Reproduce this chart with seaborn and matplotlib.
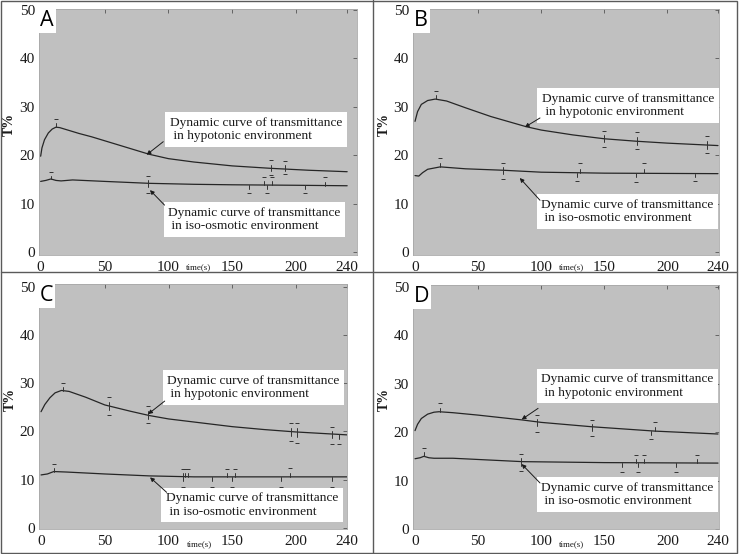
import numpy as np
import pandas as pd
import seaborn as sns
import matplotlib.pyplot as plt
from matplotlib.patches import Rectangle
from matplotlib.lines import Line2D

# ---- data (time in s, T%) ----
panels = ['A', 'B', 'C', 'D']

a_hypo_t = [0, 1, 3, 6, 9, 12, 15, 20, 30, 40, 50, 60, 70, 85, 100, 120, 150, 180, 210, 240]
a_hypo = [19.8, 21.5, 23.2, 24.6, 25.4, 25.8, 25.7, 25.3, 24.5, 23.8, 23.0, 22.2, 21.4, 20.2, 19.3, 18.6, 17.8, 17.3, 16.9, 16.6]
a_iso_t = [0, 4, 8, 12, 16, 25, 50, 85, 120, 150, 200, 240]
a_iso = [14.6, 14.8, 15.1, 14.8, 14.7, 14.9, 14.6, 14.2, 14.0, 13.9, 13.8, 13.7]

b_hypo_t = [0, 2, 5, 10, 16, 25, 40, 60, 88, 100, 125, 150, 175, 200, 240]
b_hypo = [27.0, 29.0, 30.5, 31.3, 31.6, 31.2, 29.8, 28.0, 25.9, 25.2, 24.2, 23.4, 22.9, 22.5, 22.0]
b_iso_t = [0, 3, 6, 10, 20, 40, 70, 100, 150, 240]
b_iso = [15.8, 15.7, 16.4, 17.1, 17.6, 17.2, 16.9, 16.5, 16.3, 16.2]

c_hypo_t = [0, 3, 7, 11, 16, 22, 35, 50, 70, 85, 100, 125, 150, 175, 200, 220, 240]
c_hypo = [24.1, 25.6, 27.0, 28.0, 28.5, 28.3, 27.1, 25.5, 24.2, 23.3, 22.6, 21.8, 21.0, 20.4, 19.9, 19.6, 19.3]
c_iso_t = [0, 5, 10, 20, 50, 85, 120, 180, 240]
c_iso = [11.0, 11.2, 11.7, 11.6, 11.2, 10.8, 10.6, 10.6, 10.6]

d_hypo_t = [0, 2, 5, 10, 15, 19, 30, 50, 85, 100, 140, 190, 240]
d_hypo = [20.3, 21.6, 22.8, 23.7, 24.1, 24.2, 24.0, 23.5, 22.5, 22.0, 21.1, 20.2, 19.6]
d_iso_t = [0, 4, 7, 11, 15, 30, 85, 150, 240]
d_iso = [14.5, 14.7, 15.0, 14.7, 14.6, 14.6, 13.9, 13.7, 13.6]

# small reading marks on the curves: time, end value
a_hypo_mark_t = [12, 180, 180, 191, 191]
a_hypo_mark_v = [27.5, 19.0, 16.0, 18.8, 16.2]
a_iso_mark_t = [8, 84, 84, 163, 175, 177, 181, 207, 223]
a_iso_mark_v = [16.5, 15.7, 12.3, 12.2, 15.5, 12.2, 15.5, 12.2, 15.5]

b_hypo_mark_t = [17, 150, 150, 176, 176, 231, 231]
b_hypo_mark_v = [33.3, 25.0, 21.8, 24.7, 21.3, 24.0, 20.5]
b_iso_mark_t = [20, 70, 70, 128, 131, 175, 181, 222]
b_iso_mark_v = [19.5, 18.5, 15.0, 14.6, 18.3, 14.5, 18.3, 14.6]

c_hypo_mark_t = [17, 53, 53, 84, 84, 196, 196, 201, 201, 228, 228, 234]
c_hypo_mark_v = [30.0, 27.2, 23.5, 25.3, 21.8, 21.8, 18.0, 21.7, 17.6, 21.0, 17.5, 17.5]
c_iso_mark_t = [10, 111, 113, 115, 111, 134, 146, 150, 152, 188, 195, 228]
c_iso_mark_v = [13.3, 12.3, 12.3, 12.3, 8.5, 8.5, 12.3, 8.5, 12.3, 8.5, 12.5, 8.5]

d_hypo_mark_t = [20, 97, 97, 140, 140, 187, 190]
d_hypo_mark_v = [26.0, 23.5, 20.0, 22.5, 19.2, 18.5, 22.0]
d_iso_mark_t = [7, 84, 84, 164, 175, 177, 181, 207, 223]
d_iso_mark_v = [16.8, 15.5, 12.0, 11.8, 15.3, 11.8, 15.3, 11.8, 15.3]

hypo_label = 'Dynamic curve of transmittance\n in hypotonic environment'
iso_label = 'Dynamic curve of transmittance\n in iso-osmotic environment'
x_ticks = [0, 50, 100, 150, 200, 240]
y_ticks = [0, 10, 20, 30, 40, 50]

curves = {
    'A': (a_hypo_t, a_hypo, a_iso_t, a_iso),
    'B': (b_hypo_t, b_hypo, b_iso_t, b_iso),
    'C': (c_hypo_t, c_hypo, c_iso_t, c_iso),
    'D': (d_hypo_t, d_hypo, d_iso_t, d_iso),
}
marks = {
    'A': (a_hypo_mark_t, a_hypo_mark_v, a_iso_mark_t, a_iso_mark_v),
    'B': (b_hypo_mark_t, b_hypo_mark_v, b_iso_mark_t, b_iso_mark_v),
    'C': (c_hypo_mark_t, c_hypo_mark_v, c_iso_mark_t, c_iso_mark_v),
    'D': (d_hypo_mark_t, d_hypo_mark_v, d_iso_mark_t, d_iso_mark_v),
}

# layout (pixels in a 741x554 figure) and annotation placement per panel
W, H = 741, 554
boxes_px = {'A': (39, 9, 357, 255), 'B': (413, 9, 719, 255),
            'C': (39, 284, 347, 529), 'D': (413, 285, 719, 529)}
xlims = {'A': (-1.3, 247.7), 'B': (-1.6, 240.8), 'C': (-1.6, 240.0), 'D': (-1.6, 240.8)}
ylims = {'A': (-0.6, 50.2), 'B': (-0.6, 50.2), 'C': (-0.2, 50.55), 'D': (0.0, 50.35)}
hypo_text = {'A': (101, 28.0), 'B': (100.6, 32.9), 'C': (99, 31.7), 'D': (100, 32.1)}
iso_text = {'A': (100, 9.3), 'B': (100, 11.0), 'C': (98, 7.4), 'D': (100, 9.7)}
hypo_arrow = {'A': ((83, 20.1), (96, 22.8)), 'B': ((87, 25.8), (99, 27.7)),
              'C': ((84, 23.6), (97, 26.3)), 'D': ((84.5, 22.6), (97.5, 24.9))}
iso_arrow = {'A': ((85.6, 12.8), (97, 9.7)), 'B': ((83, 15.3), (99, 10.7)),
             'C': ((85.5, 10.5), (98.5, 7.4)), 'D': ((84.5, 13.4), (99, 9.5))}

sns.set_theme(style='white')
plt.rcParams['font.family'] = ['Liberation Serif', 'DejaVu Serif']

fig = plt.figure(figsize=(W / 100, H / 100), dpi=100)
fig.patch.set_facecolor('white')

# frames around the panels
fig.add_artist(Rectangle((1 / W, 1 - 553 / H), 736 / W, 552 / H, transform=fig.transFigure,
                         fill=False, ec='#5a5a5a', lw=1))
fig.add_artist(Line2D([373 / W, 373 / W], [0, 1], transform=fig.transFigure, color='#5a5a5a', lw=1))
fig.add_artist(Line2D([1 / W, 737 / W], [1 - 272 / H, 1 - 272 / H], transform=fig.transFigure,
                      color='#5a5a5a', lw=1))


def draw_marks(ax, t, v, mt, mv):
    for x, end in zip(mt, mv):
        c = np.interp(x, t, v)
        ax.plot([x, x], [c, c + (end - c) * 0.45], color='#333333', lw=0.7)
        ax.plot(x, end, marker='_', ms=2.5, mew=0.7, color='#333333')


for p in panels:
    x0, y0, x1, y1 = boxes_px[p]
    ax = fig.add_axes([x0 / W, 1 - y1 / H, (x1 - x0) / W, (y1 - y0) / H])
    ax.set_facecolor('#c0c0c0')
    ht, hv, it, iv = curves[p]
    df_h = pd.DataFrame({'t': ht, 'T': hv})
    df_i = pd.DataFrame({'t': it, 'T': iv})
    sns.lineplot(data=df_h, x='t', y='T', ax=ax, color='#262626', lw=0.9)
    sns.lineplot(data=df_i, x='t', y='T', ax=ax, color='#262626', lw=0.9)
    mht, mhv, mit, miv = marks[p]
    draw_marks(ax, ht, hv, mht, mhv)
    draw_marks(ax, it, iv, mit, miv)

    ax.set_xlim(*xlims[p])
    ax.set_ylim(*ylims[p])
    ax.set_xticks(x_ticks)
    ax.set_yticks(y_ticks)
    ax.tick_params(direction='in', top=True, right=True, length=3, width=0.6,
                   color='#555555', labelsize=11, labelcolor='#1a1a1a')
    ax.tick_params(axis='x', pad=4)
    ax.tick_params(axis='y', pad=3)
    for s in ax.spines.values():
        s.set_color('#a8a8a8')
        s.set_linewidth(0.6)

    ax.set_xlabel('')
    ax.set_ylabel('T%', fontsize=10, fontweight='bold', color='#1a1a1a')
    ax.yaxis.set_label_coords(-0.072, 0.53)
    dy = 0.049 if p in ('A', 'B') else 0.061
    ax.text(124, -dy, 'time(s)', transform=ax.get_xaxis_transform(), ha='center', va='center',
            fontsize=6.5, color='#1a1a1a')

    ax.text(0.004, 0.995, p, transform=ax.transAxes, ha='left', va='top', family='Open Sans',
            fontsize=15.5, color='black',
            bbox=dict(boxstyle='square,pad=0.08', fc='white', ec='none'))

    for (tx, ty), lab in ((hypo_text[p], hypo_label), (iso_text[p], iso_label)):
        ax.text(tx, ty, lab, ha='left', va='top', fontsize=9.6, color='#1a1a1a', linespacing=1.15,
                bbox=dict(boxstyle='square,pad=0.35', fc='white', ec='none'))
    for head, tail in (hypo_arrow[p], iso_arrow[p]):
        ax.annotate('', xy=head, xytext=tail,
                    arrowprops=dict(arrowstyle='-|>', color='#1a1a1a', lw=0.7, mutation_scale=6,
                                    shrinkA=0, shrinkB=0))

fig.savefig('out.png', dpi=100)
